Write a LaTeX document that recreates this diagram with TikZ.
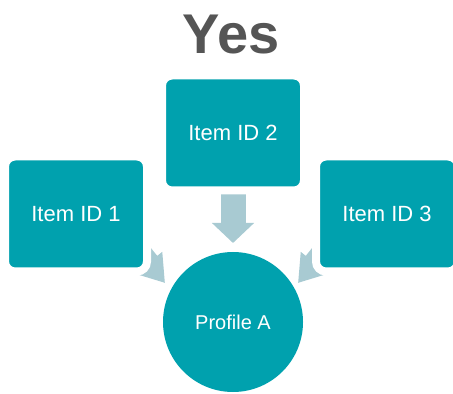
\documentclass[tikz,border=0pt]{standalone}
\usepackage{fontspec}
\setmainfont{Liberation Sans}
\usetikzlibrary{arrows.meta,backgrounds}
\definecolor{tealbox}{RGB}{0,161,174}
\definecolor{arrowblue}{RGB}{168,202,210}
\definecolor{titlegray}{RGB}{85,85,85}

\begin{document}
\begin{tikzpicture}
	[x=0.5pt,y=-0.5pt,
	box/.style={draw=white,line width=4pt,fill=tealbox,rounded corners=5pt,
		minimum width=71pt,minimum height=57.5pt,text=white,
		font=\fontsize{11}{13}\selectfont},
	profile/.style={circle,fill=tealbox,minimum size=70pt,inner sep=0pt,
		text=white,font=\fontsize{10}{12}\selectfont},
	downarrow/.style={draw=arrowblue,line width=12.5pt,
		-{Triangle[width=20.5pt,length=10pt]}},
	sidearrow/.style={draw=arrowblue,line width=11pt,
		-{Triangle[width=16.5pt,length=13pt]}}]
	\useasboundingbox (0,0) rectangle (453,394);
	\node[font=\fontsize{28}{32}\selectfont\bfseries,text=titlegray] (yes) at (231,35) {Yes};
	\node[box] (id1) at (76,214) {Item ID 1};
	\node[box] (id2) at (233,133) {\raisebox{-3.5pt}{Item ID 2}};
	\node[box] (id3) at (387,214) {Item ID 3};
	\node[profile] (prof) at (233,322) {Profile A};
	\coordinate (s1) at (115,221);
	\coordinate (t1) at (165,283);
	\coordinate (t2) at (233,243);
	\coordinate (s3) at (348,221);
	\coordinate (t3) at (298,283);

	\begin{scope}[on background layer]
	\draw[downarrow] (id2.center) -- (t2);
	\foreach \startNode/\endNode in {s1/t1,s3/t3}{
		\draw[sidearrow] (\startNode) -- (\endNode);
	}
	\end{scope}
\end{tikzpicture}
\end{document}
